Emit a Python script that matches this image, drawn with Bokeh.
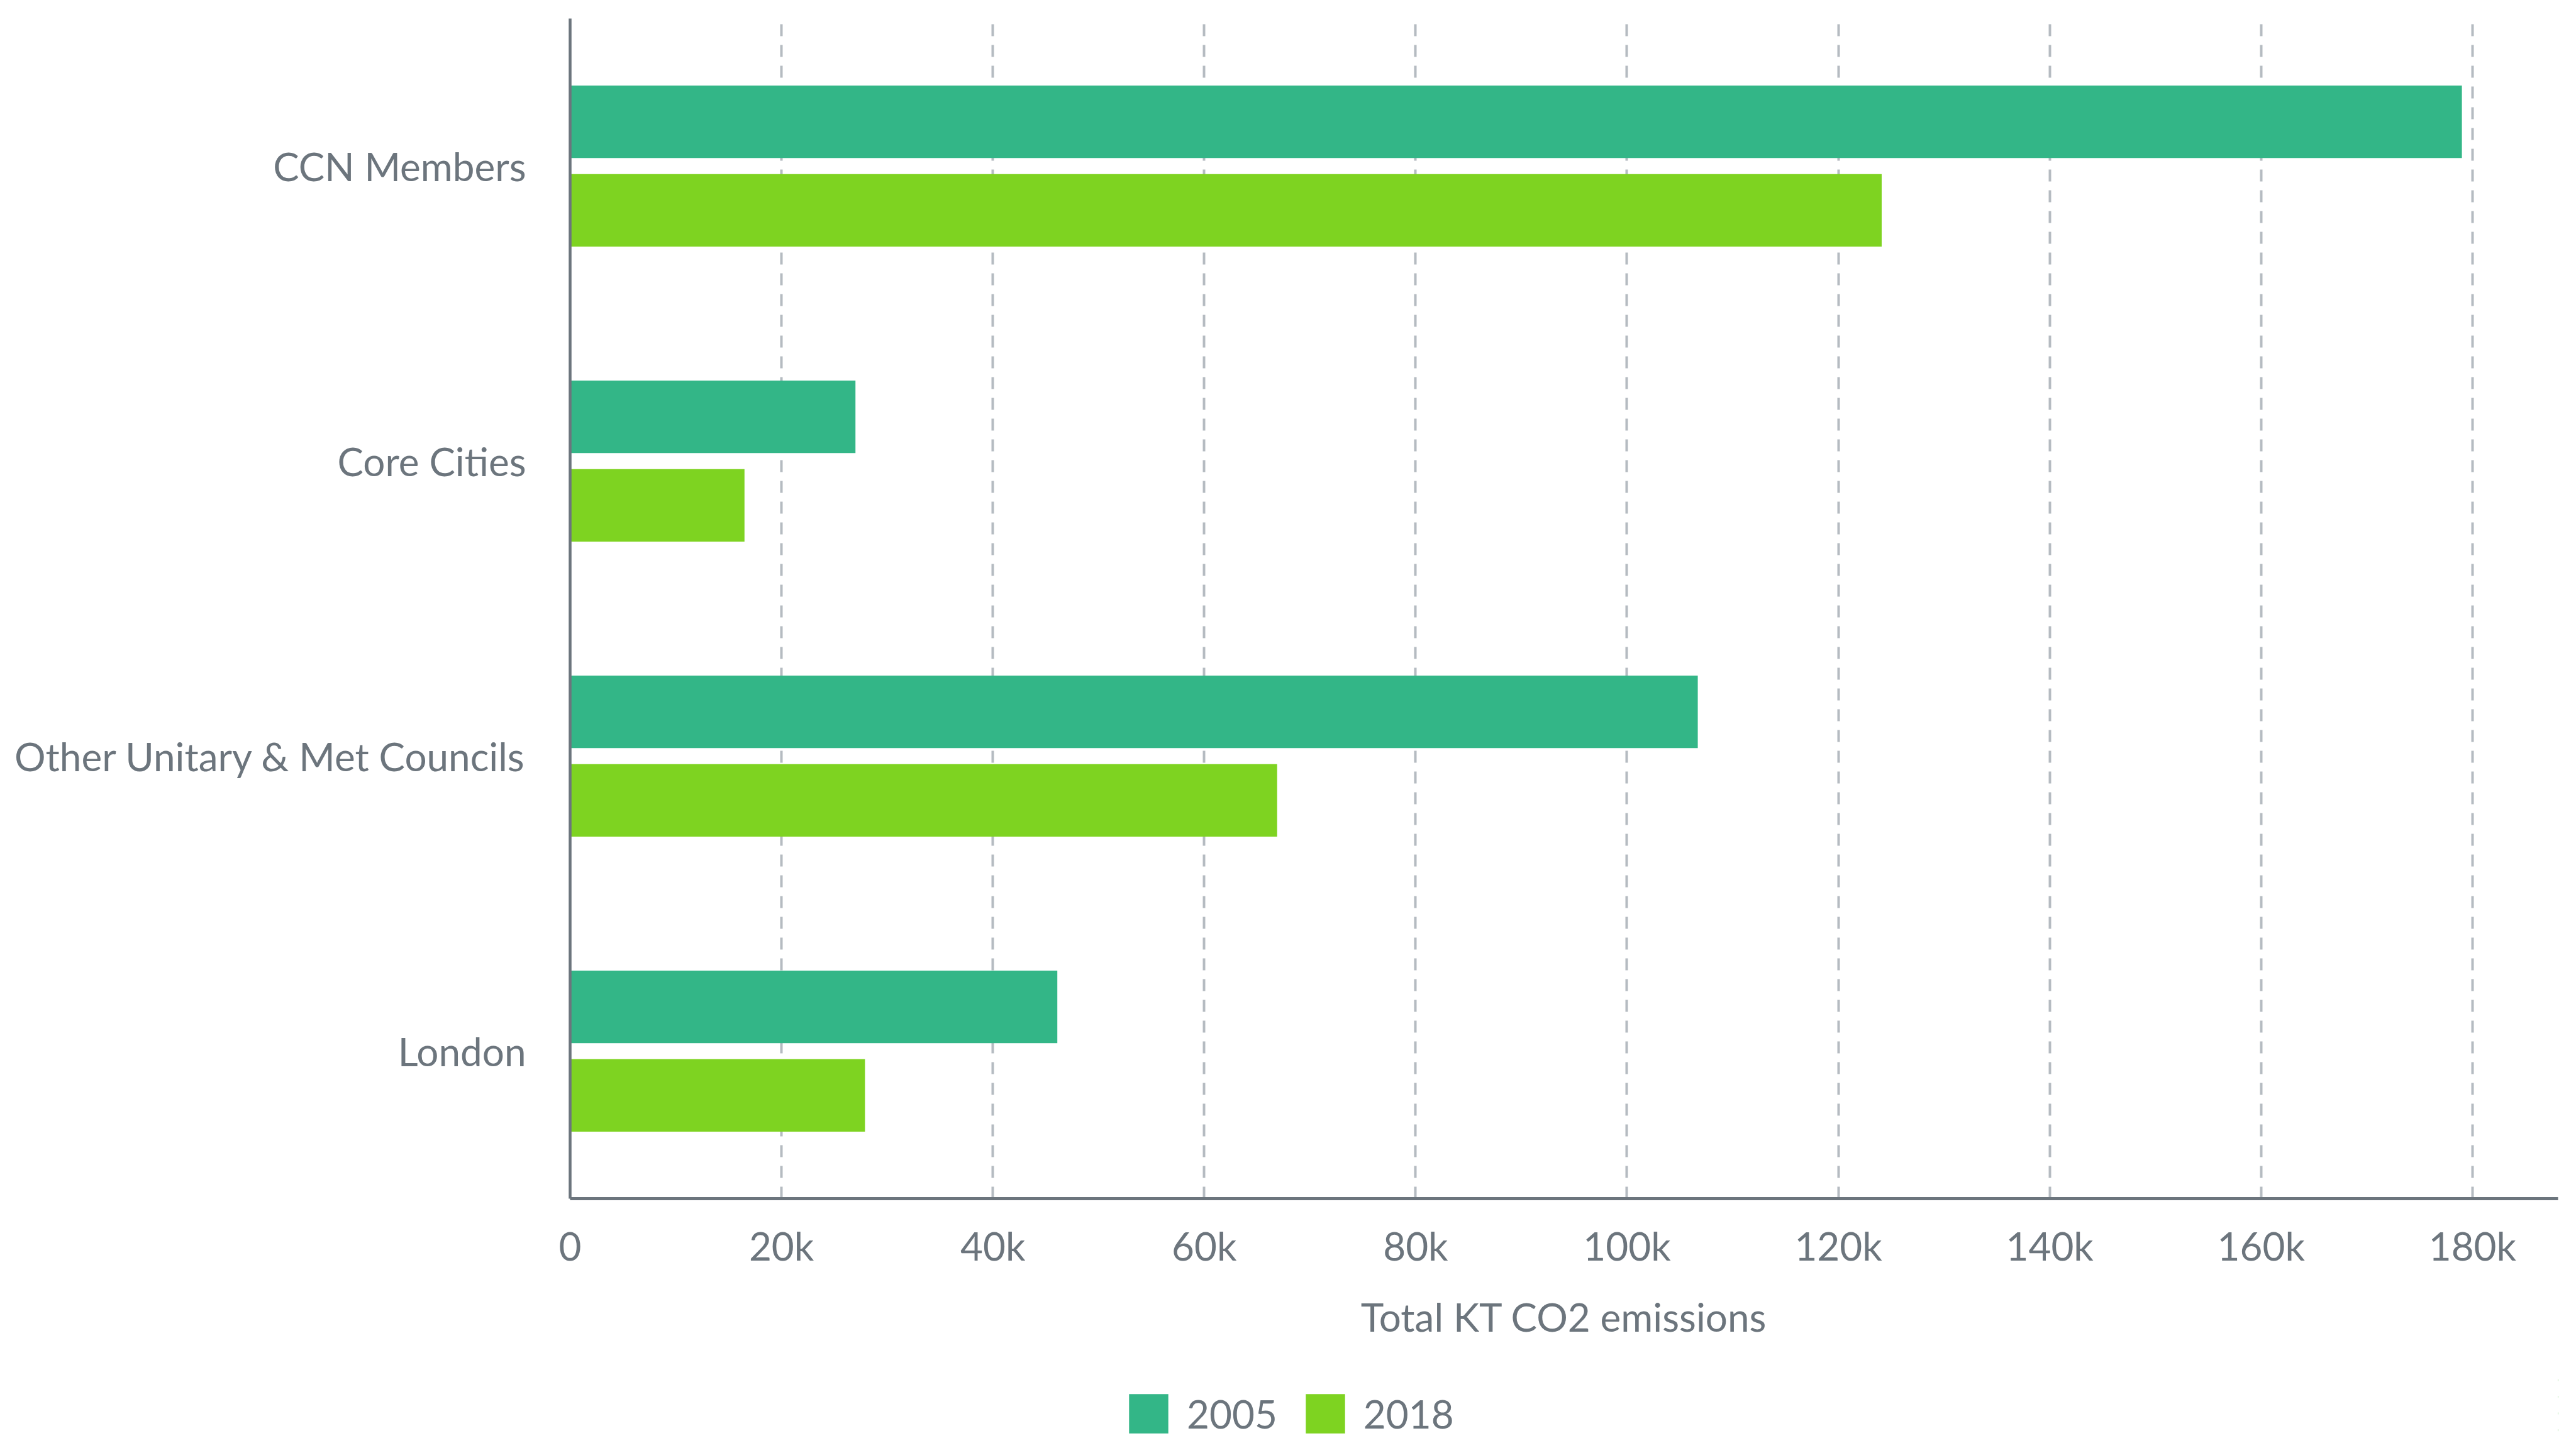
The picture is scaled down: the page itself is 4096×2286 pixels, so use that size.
from bokeh.plotting import figure
from bokeh.layouts import column
from bokeh.models import FactorRange, Range1d, FixedTicker, Legend, LegendItem, ColumnDataSource
from bokeh.transform import dodge
from bokeh.embed import file_html
from bokeh.resources import INLINE

# ---- data ----
categories = ["CCN Members", "Core Cities", "Other Unitary & Met Councils", "London"]
emissions_2005 = [179000, 27000, 106700, 46100]
emissions_2018 = [124100, 16500, 66900, 27900]
series_names = ["2005", "2018"]
tick_values = [0, 20000, 40000, 60000, 80000, 100000, 120000, 140000, 160000, 180000]
tick_labels = ["0", "20k", "40k", "60k", "80k", "100k", "120k", "140k", "160k", "180k"]
x_title = "Total KT CO2 emissions"

# ---- style ----
colors = ["#33b687", "#7ed321"]
text_color = "#6c757d"
grid_color = "#b5bbc1"
FONT = "Lato"
FS = "62px"

W, H = 4096, 2286
H_MAIN = 2180
H_LEG = H - H_MAIN
LEFT = 906

src = ColumnDataSource(dict(cat=categories, v2005=emissions_2005, v2018=emissions_2018))

p = figure(width=W, height=H_MAIN,
           y_range=FactorRange(factors=categories[::-1]),
           x_range=Range1d(0, 188100),
           output_backend="svg", toolbar_location=None,
           min_border_left=LEFT, min_border_right=29,
           min_border_top=29, min_border_bottom=H_MAIN - 1905)
p.background_fill_color = "white"
p.border_fill_color = "white"
p.outline_line_color = None

r1 = p.hbar(y=dodge("cat", 0.150, range=p.y_range), left=0, right="v2005", height=0.246,
            fill_color=colors[0], line_color=None, source=src)
r2 = p.hbar(y=dodge("cat", -0.150, range=p.y_range), left=0, right="v2018", height=0.246,
            fill_color=colors[1], line_color=None, source=src)

# x axis
p.xaxis.ticker = FixedTicker(ticks=tick_values)
p.xaxis.major_label_overrides = {v: l for v, l in zip(tick_values, tick_labels)}
p.xaxis.axis_label = x_title
p.xaxis.axis_label_text_font = FONT
p.xaxis.axis_label_text_font_size = FS
p.xaxis.axis_label_text_font_style = "normal"
p.xaxis.axis_label_text_color = text_color
p.xaxis.axis_label_standoff = 36
p.xaxis.major_label_text_font = FONT
p.xaxis.major_label_text_font_size = FS
p.xaxis.major_label_text_color = text_color
p.xaxis.major_label_standoff = 37
p.xaxis.major_tick_line_color = None
p.xaxis.minor_tick_line_color = None
p.xaxis.major_tick_out = 0
p.xaxis.major_tick_in = 0
p.xaxis.axis_line_color = text_color
p.xaxis.axis_line_width = 5

# y axis
p.yaxis.major_label_text_font = FONT
p.yaxis.major_label_text_font_size = FS
p.yaxis.major_label_text_color = text_color
p.yaxis.major_label_standoff = 70
p.yaxis.major_tick_line_color = None
p.yaxis.minor_tick_line_color = None
p.yaxis.major_tick_out = 0
p.yaxis.major_tick_in = 0
p.yaxis.axis_line_color = text_color
p.yaxis.axis_line_width = 4.5

# grid
p.ygrid.grid_line_color = None
p.xgrid.ticker = FixedTicker(ticks=tick_values)
p.xgrid.grid_line_color = grid_color
p.xgrid.grid_line_width = 4
p.xgrid.grid_line_dash = "19 14"

# ---- legend strip (same series, drawn outside its view so only the legend shows) ----
q = figure(width=W, height=H_LEG, output_backend="svg", toolbar_location=None,
           y_range=FactorRange(factors=categories[::-1]),
           x_range=Range1d(-2, -1),
           x_axis_location=None, y_axis_location=None,
           min_border_left=0, min_border_right=0, min_border_top=0, min_border_bottom=0)
q.xgrid.grid_line_color = None
q.ygrid.grid_line_color = None
q.outline_line_color = None
q.background_fill_color = "white"
q.border_fill_color = "white"
l1 = q.hbar(y="cat", left=0, right="v2005", height=0.246, fill_color=colors[0],
            line_color=None, border_radius=4, source=src)
l2 = q.hbar(y="cat", left=0, right="v2018", height=0.246, fill_color=colors[1],
            line_color=None, border_radius=4, source=src)

GLYPH = 78
legend = Legend(items=[LegendItem(label=series_names[0], renderers=[l1]),
                       LegendItem(label=series_names[1], renderers=[l2])],
                orientation="horizontal", location=(1787 - LEFT, H_LEG - GLYPH - 28),
                glyph_width=GLYPH, glyph_height=GLYPH, label_standoff=22, spacing=37,
                padding=0, margin=0, border_line_color=None, background_fill_alpha=0,
                label_text_font=FONT, label_text_font_size=FS, label_text_color=text_color)
q.add_layout(legend, "center")

layout = column(p, q, spacing=0)
open("out.html", "w").write(file_html(layout, INLINE))
